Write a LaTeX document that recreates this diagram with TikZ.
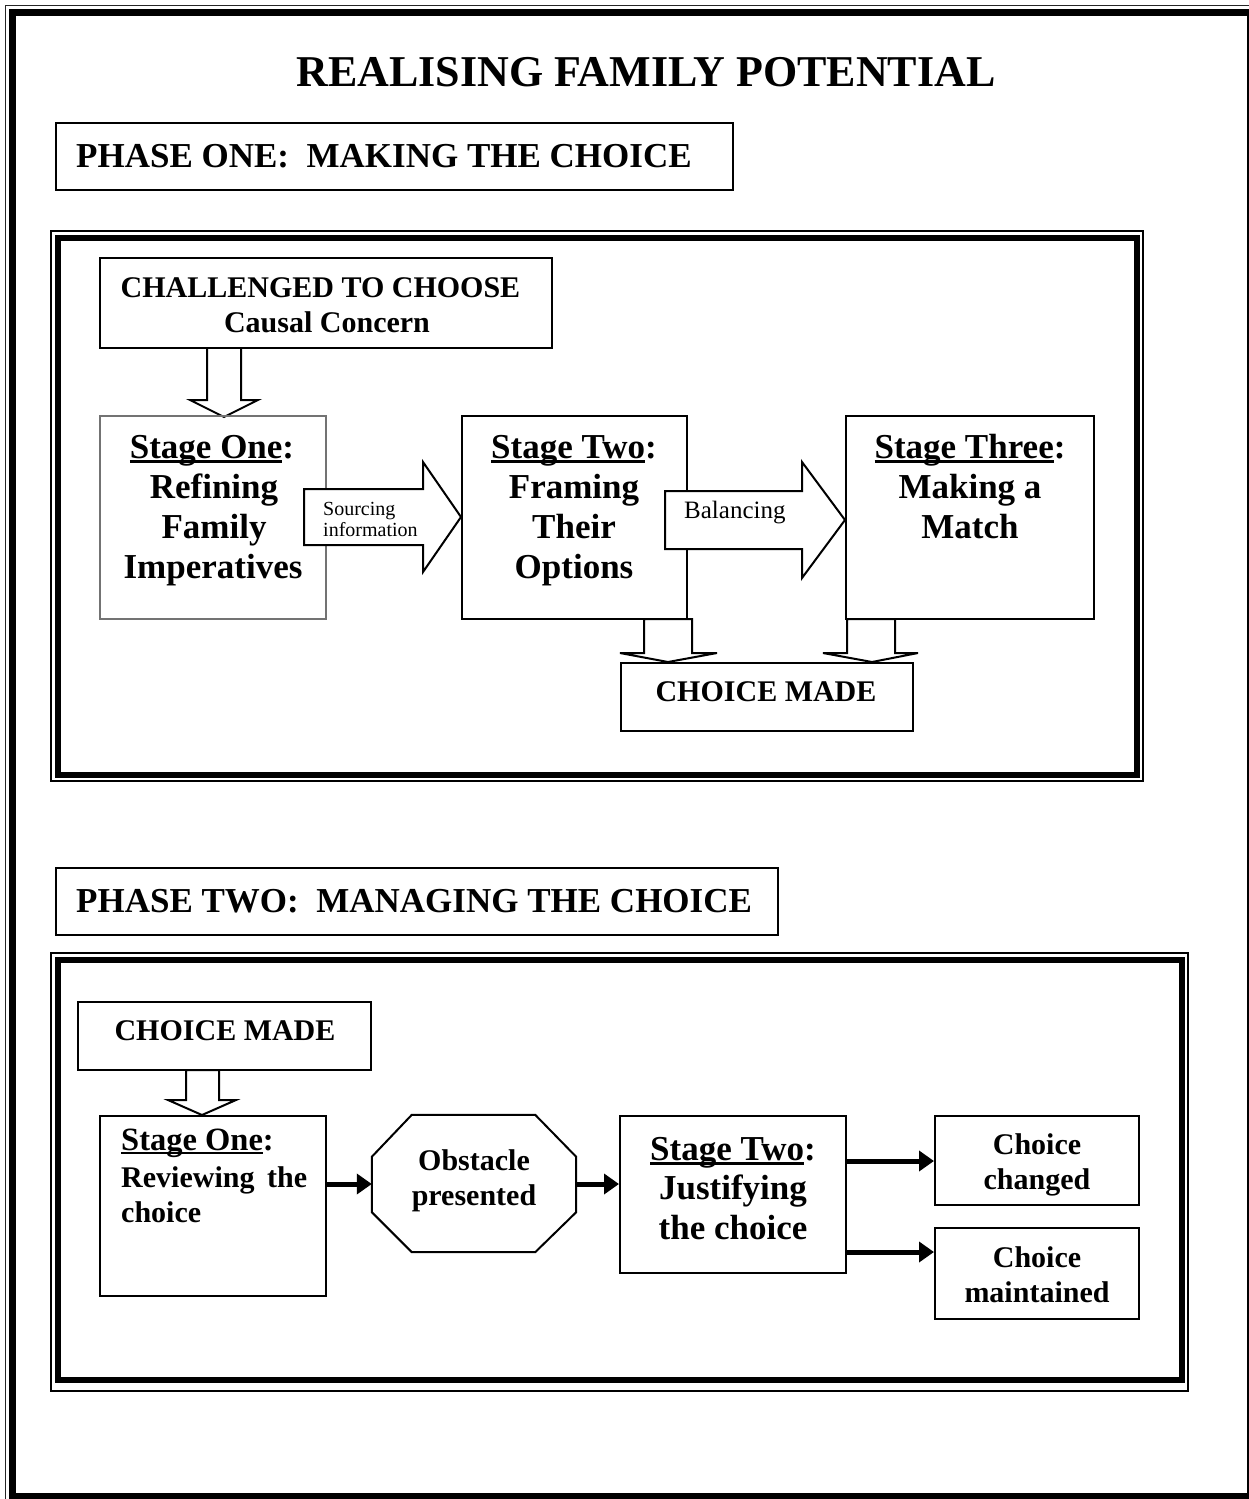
\documentclass[tikz,border=0pt]{standalone}
\usepackage{fontspec}
\setmainfont{Liberation Serif}
\usetikzlibrary{arrows.meta,calc,fit}
\newcommand\myul[1]{{\setbox0\hbox{#1}\rlap{\rule[-0.13em]{\wd0}{0.06em}}\box0}}
\begin{document}
\begin{tikzpicture}[x=1pt,y=-1pt,
  box/.style={draw, line width=2pt, inner sep=0pt},
  graybox/.style={draw=black!55, line width=1.4pt, inner sep=0pt},
  blk/.style={draw, line width=2pt, fill=white, line join=miter},
  txt/.style={inner sep=0pt, anchor=base},
  big/.style={txt, font=\bfseries\fontsize{35}{40}\selectfont},
  mid/.style={txt, font=\bfseries\fontsize{30}{35}\selectfont},
  hd/.style={inner sep=0pt, anchor=base west, font=\bfseries\fontsize{35}{40}\selectfont},
  ttlstyle/.style={txt, font=\bfseries\fontsize{44}{50}\selectfont},
  small/.style={inner sep=0pt, anchor=base west, font=\fontsize{20}{20}\selectfont},
  lab/.style={inner sep=0pt, anchor=base west, font=\fontsize{25}{25}\selectfont},
  thk/.style={line width=5pt, -{Triangle[length=15pt,width=20pt]}, shorten >=0pt}
]
\useasboundingbox (0,0) rectangle (1248,1499);
% outer frame
\draw[line width=1.6pt, black!85] (5.5,1499) -- (5.5,5.5) -- (1252,5.5);
\draw[line width=7pt] (12.5,12.5) rectangle (1250.5,1496.5);

% title
\node[ttlstyle] (ttl) at (646,86) {REALISING FAMILY POTENTIAL};

% phase one heading
\node[box, fit={(56,123) (733,190)}] (ph1) {};
\node[hd] (ph1t) at (76,167) {PHASE ONE:\ \ MAKING THE CHOICE};

% phase one frame
\draw[line width=1.6pt] (51,231) rectangle (1143,781);
\draw[line width=6pt] (58,237.5) rectangle (1137,774.5);

% challenged box
\node[box, fit={(100,258) (552,348)}] (cc) {};
\node[mid] (cca) at (320.5,297) {CHALLENGED TO CHOOSE};
\node[mid] (ccb) at (327,332) {Causal Concern};

% block arrow down to stage one
\draw[blk] ($(cc.south west)+(108,0)$) -- ++(0,51) -- ++(-17,0) -- ($(cc.south west)+(125,68)$)
  -- ($(cc.south west)+(159,51)$) -- ++(-17,0) -- ($(cc.south west)+(142,0)$);

% stage boxes phase one
\node[graybox, fit={(100,416) (326,619)}] (s1) {};
\node[big] (s1a) at (212,458) {\myul{Stage One}:};
\node[big] (s1b) at (214,498) {Refining};
\node[big] (s1c) at (214,538) {Family};
\node[big] (s1d) at (213,578) {Imperatives};

\node[box, fit={(462,416) (687,619)}] (s2) {};
\node[big] (s2a) at (574,458) {\myul{Stage Two}:};
\node[big] (s2b) at (574,498) {Framing};
\node[big] (s2c) at (574,538) {Their};
\node[big] (s2d) at (574,578) {Options};

\node[box, fit={(846,416) (1094,619)}] (s3) {};
\node[big] (s3a) at (970,458) {\myul{Stage Three}:};
\node[big] (s3b) at (970,498) {Making a};
\node[big] (s3c) at (970,538) {Match};

% sourcing information arrow
\draw[blk] (304,489) -- (423,489) -- (423,462) -- (s2.west |- 0,517) -- (423,572) -- (423,545) -- (304,545) -- cycle;
\node[small] (srca) at (323,515) {Sourcing};
\node[small] (srcb) at (323,536) {information};

% balancing arrow
\draw[blk] (665,491) -- (802,491) -- (802,462) -- (s3.west |- 0,520) -- (802,578) -- (802,549) -- (665,549) -- cycle;
\node[lab] (bal) at (684,518) {Balancing};

% choice made
\node[box, fit={(621,663) (913,731)}] (cm1) {};
\node[mid] (cm1t) at (766,701) {CHOICE MADE};

\draw[blk] (644,619) -- (644,653) -- (620,653) -- (cm1.north -| 668,0) -- (717,653) -- (692,653) -- (692,619) -- cycle;
\draw[blk] (847,619) -- (847,653) -- (823,653) -- (cm1.north -| 872,0) -- (918,653) -- (895,653) -- (895,619) -- cycle;

% phase two heading
\node[box, fit={(56,868) (778,935)}] (ph2) {};
\node[hd] (ph2t) at (76,912) {PHASE TWO:\ \ MANAGING THE CHOICE};

% phase two frame
\draw[line width=1.6pt] (51,953) rectangle (1188,1391);
\draw[line width=6pt] (58,960) rectangle (1182,1380);

% choice made 2
\node[box, fit={(78,1002) (371,1070)}] (cm2) {};
\node[mid] (cm2t) at (225,1040) {CHOICE MADE};

% stage one phase two
\node[box, fit={(100,1116) (326,1296)}] (t1) {};
\draw[blk] (186,1070) -- (186,1100) -- (168,1100) -- (t1.north -| 202,0) -- (236,1100) -- (219,1100) -- (219,1070) -- cycle;
\node[txt, anchor=base west, font=\bfseries\fontsize{32.5}{35}\selectfont] (t1a) at (121,1150) {\myul{Stage One}:};
\node[mid, anchor=base west] (t1b) at (121,1187) {\makebox[186pt][s]{Reviewing the}};
\node[mid, anchor=base west] (t1c) at (121,1222) {choice};

% obstacle octagon
\node[inner sep=0pt, fit={(372,1115) (576,1252)}] (ob) {};
\draw[line width=2pt] ($(ob.north west)+(40,0)$) -- ($(ob.north east)+(-41,0)$) -- ($(ob.north east)+(0,42)$)
  -- ($(ob.south east)+(0,-40)$) -- ($(ob.south east)+(-41,0)$) -- ($(ob.south west)+(40,0)$)
  -- ($(ob.south west)+(0,-40)$) -- ($(ob.north west)+(0,42)$) -- cycle;
\node[mid] (oba) at (474,1170) {Obstacle};
\node[mid] (obb) at (474,1205) {presented};

% stage two phase two
\node[box, fit={(620,1116) (846,1273)}] (t2) {};
\node[big] (t2a) at (733,1160) {\myul{Stage Two}:};
\node[big] (t2b) at (733,1199) {Justifying};
\node[big] (t2c) at (733,1239) {the choice};

% outcome boxes
\node[box, fit={(935,1116) (1139,1205)}] (o1) {};
\node[mid] (o1a) at (1037,1154) {Choice};
\node[mid] (o1b) at (1037,1189) {changed};
\node[box, fit={(935,1228) (1139,1319)}] (o2) {};
\node[mid] (o2a) at (1037,1267) {Choice};
\node[mid] (o2b) at (1037,1302) {maintained};

% thick arrows
\draw[thk] (t1.east |- 0,1184) -- (ob.west |- 0,1184);
\draw[thk] (ob.east |- 0,1184) -- (t2.west |- 0,1184);
\draw[thk] (t2.east |- 0,1161) -- (o1.west |- 0,1161);
\draw[thk] (t2.east |- 0,1252) -- (o2.west |- 0,1252);
\end{tikzpicture}
\end{document}
